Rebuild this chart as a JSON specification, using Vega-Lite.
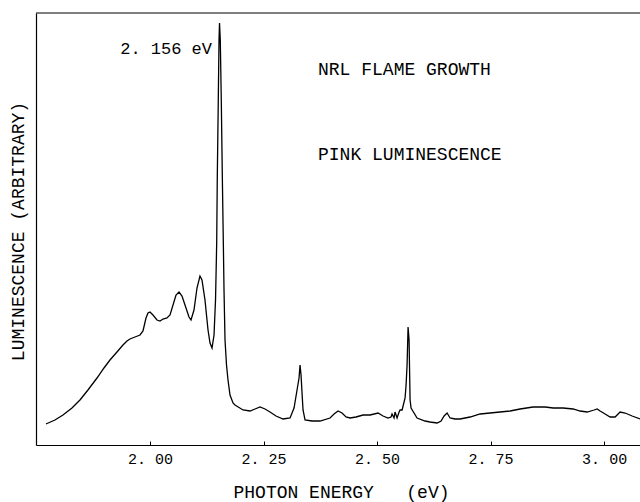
{
  "$schema": "https://vega.github.io/schema/vega-lite/v6.json",
  "autosize": {"type": "none"},
  "width": 604,
  "height": 432,
  "padding": {"left": 36, "top": 13, "right": 0, "bottom": 57},
  "background": "white",
  "config": {"view": {"stroke": null}, "font": "Liberation Mono"},
  "datasets": {
    "spectrum": [
      {"E": 1.7709, "I": 21}, {"E": 1.7907, "I": 25}, {"E": 1.8084, "I": 30}, {"E": 1.8282, "I": 37},
      {"E": 1.8458, "I": 45}, {"E": 1.8634, "I": 55}, {"E": 1.8833, "I": 67}, {"E": 1.8987, "I": 77},
      {"E": 1.9119, "I": 85}, {"E": 1.9273, "I": 93}, {"E": 1.9405, "I": 100}, {"E": 1.9493, "I": 104},
      {"E": 1.9559, "I": 106}, {"E": 1.9670, "I": 108}, {"E": 1.9780, "I": 110}, {"E": 1.9846, "I": 114},
      {"E": 1.9912, "I": 127}, {"E": 1.9956, "I": 132}, {"E": 2.0000, "I": 133}, {"E": 2.0066, "I": 130},
      {"E": 2.0154, "I": 125}, {"E": 2.0220, "I": 124}, {"E": 2.0286, "I": 126}, {"E": 2.0374, "I": 127},
      {"E": 2.0441, "I": 130}, {"E": 2.0507, "I": 140}, {"E": 2.0573, "I": 150}, {"E": 2.0639, "I": 153},
      {"E": 2.0705, "I": 149}, {"E": 2.0793, "I": 137}, {"E": 2.0859, "I": 128}, {"E": 2.0903, "I": 125},
      {"E": 2.0969, "I": 135}, {"E": 2.1035, "I": 157}, {"E": 2.1101, "I": 169}, {"E": 2.1145, "I": 165},
      {"E": 2.1211, "I": 145}, {"E": 2.1278, "I": 115}, {"E": 2.1322, "I": 102}, {"E": 2.1366, "I": 97},
      {"E": 2.1410, "I": 110}, {"E": 2.1443, "I": 145}, {"E": 2.1469, "I": 202}, {"E": 2.1482, "I": 268},
      {"E": 2.1504, "I": 345}, {"E": 2.1520, "I": 405}, {"E": 2.1531, "I": 422}, {"E": 2.1548, "I": 405},
      {"E": 2.1570, "I": 345}, {"E": 2.1593, "I": 268}, {"E": 2.1615, "I": 202}, {"E": 2.1630, "I": 155},
      {"E": 2.1652, "I": 105}, {"E": 2.1685, "I": 80}, {"E": 2.1718, "I": 65}, {"E": 2.1762, "I": 50},
      {"E": 2.1828, "I": 42}, {"E": 2.1872, "I": 40}, {"E": 2.2048, "I": 35}, {"E": 2.2203, "I": 34},
      {"E": 2.2313, "I": 36}, {"E": 2.2423, "I": 38}, {"E": 2.2533, "I": 36}, {"E": 2.2643, "I": 33},
      {"E": 2.2775, "I": 29}, {"E": 2.2930, "I": 26}, {"E": 2.3084, "I": 27}, {"E": 2.3172, "I": 37},
      {"E": 2.3238, "I": 55}, {"E": 2.3282, "I": 67}, {"E": 2.3304, "I": 80}, {"E": 2.3326, "I": 70},
      {"E": 2.3348, "I": 52}, {"E": 2.3370, "I": 35}, {"E": 2.3414, "I": 25}, {"E": 2.3568, "I": 24},
      {"E": 2.3744, "I": 24}, {"E": 2.3965, "I": 27}, {"E": 2.4053, "I": 31}, {"E": 2.4141, "I": 34},
      {"E": 2.4229, "I": 32}, {"E": 2.4317, "I": 28}, {"E": 2.4405, "I": 27}, {"E": 2.4537, "I": 28},
      {"E": 2.4692, "I": 30}, {"E": 2.4846, "I": 30}, {"E": 2.5022, "I": 32}, {"E": 2.5132, "I": 29},
      {"E": 2.5242, "I": 27}, {"E": 2.5308, "I": 28}, {"E": 2.5330, "I": 31}, {"E": 2.5374, "I": 27},
      {"E": 2.5396, "I": 33}, {"E": 2.5441, "I": 27}, {"E": 2.5485, "I": 33}, {"E": 2.5507, "I": 35},
      {"E": 2.5551, "I": 35}, {"E": 2.5573, "I": 39}, {"E": 2.5617, "I": 47}, {"E": 2.5639, "I": 60},
      {"E": 2.5661, "I": 80}, {"E": 2.5683, "I": 118}, {"E": 2.5705, "I": 105}, {"E": 2.5716, "I": 75},
      {"E": 2.5727, "I": 45}, {"E": 2.5749, "I": 37}, {"E": 2.5881, "I": 27}, {"E": 2.6057, "I": 24},
      {"E": 2.6167, "I": 23}, {"E": 2.6322, "I": 22}, {"E": 2.6410, "I": 24}, {"E": 2.6476, "I": 29},
      {"E": 2.6542, "I": 32}, {"E": 2.6608, "I": 27}, {"E": 2.6718, "I": 26}, {"E": 2.6828, "I": 26},
      {"E": 2.7048, "I": 28}, {"E": 2.7269, "I": 31}, {"E": 2.7489, "I": 32}, {"E": 2.7709, "I": 33},
      {"E": 2.7930, "I": 34}, {"E": 2.8150, "I": 36}, {"E": 2.8436, "I": 38}, {"E": 2.8700, "I": 38},
      {"E": 2.8877, "I": 37}, {"E": 2.9097, "I": 37}, {"E": 2.9317, "I": 36}, {"E": 2.9471, "I": 34},
      {"E": 2.9626, "I": 33}, {"E": 2.9780, "I": 35}, {"E": 2.9846, "I": 36}, {"E": 2.9912, "I": 34},
      {"E": 3.0022, "I": 31}, {"E": 3.0132, "I": 28}, {"E": 3.0242, "I": 28}, {"E": 3.0308, "I": 31},
      {"E": 3.0352, "I": 33}, {"E": 3.0463, "I": 32}, {"E": 3.0617, "I": 29}, {"E": 3.0793, "I": 26}
    ],
    "frame": [{"top": 432}],
    "peaklabel": [{"E": 2.1366, "I": 396, "text": "2. 156 eV"}],
    "notes": [
      {"E": 2.370, "I": 375, "text": "NRL FLAME GROWTH"},
      {"E": 2.370, "I": 290, "text": "PINK LUMINESCENCE"}
    ]
  },
  "layer": [
    {
      "data": {"name": "spectrum"},
      "mark": {"type": "line", "color": "black", "strokeWidth": 1.3, "clip": true},
      "encoding": {
        "x": {
          "field": "E", "type": "quantitative",
          "scale": {"domain": [1.749, 3.079], "nice": false, "zero": false},
          "axis": {
            "title": "PHOTON ENERGY\u00a0\u00a0\u00a0(eV)",
            "values": [2, 2.25, 2.5, 2.75, 3],
            "labelExpr": "replace(format(datum.value, '.2f'), '.', '. ')",
            "grid": false,
            "domainColor": "black",
            "domainWidth": 1.2,
            "tickColor": "black",
            "tickSize": -4,
            "labelPadding": 10,
            "labelFont": "Liberation Mono",
            "labelFontSize": 15,
            "labelColor": "black",
            "titleFont": "Liberation Mono",
            "titleFontSize": 18,
            "titleFontWeight": "normal",
            "titleColor": "black",
            "titleX": 305,
            "titleY": 47,
            "titleBaseline": "middle",
            "titleAlign": "center"
          }
        },
        "y": {
          "field": "I", "type": "quantitative",
          "scale": {"domain": [0, 432], "nice": false, "zero": false},
          "axis": {
            "title": "LUMINESCENCE (ARBITRARY)",
            "ticks": false,
            "labels": false,
            "grid": false,
            "domainColor": "black",
            "domainWidth": 1.2,
            "titleFont": "Liberation Mono",
            "titleFontSize": 18,
            "titleFontWeight": "normal",
            "titleColor": "black",
            "titleAngle": -90,
            "titleX": -18,
            "titleY": 218,
            "titleBaseline": "middle",
            "titleAlign": "center"
          }
        }
      }
    },
    {
      "data": {"name": "frame"},
      "mark": {"type": "rule", "color": "black", "strokeWidth": 1.2},
      "encoding": {"y": {"field": "top", "type": "quantitative"}}
    },
    {
      "data": {"name": "peaklabel"},
      "mark": {"type": "text", "align": "right", "baseline": "middle", "font": "Liberation Mono", "fontSize": 17, "color": "black"},
      "encoding": {
        "x": {"field": "E", "type": "quantitative"},
        "y": {"field": "I", "type": "quantitative"},
        "text": {"field": "text"}
      }
    },
    {
      "data": {"name": "notes"},
      "mark": {"type": "text", "align": "left", "baseline": "middle", "font": "Liberation Mono", "fontSize": 18, "color": "black"},
      "encoding": {
        "x": {"field": "E", "type": "quantitative"},
        "y": {"field": "I", "type": "quantitative"},
        "text": {"field": "text"}
      }
    }
  ]
}
